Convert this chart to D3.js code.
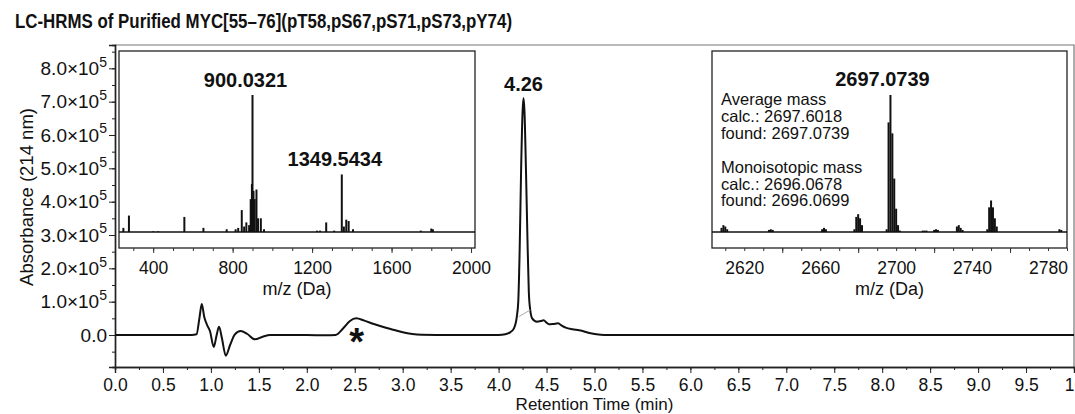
<!DOCTYPE html>
<html><head><meta charset="utf-8">
<script src="https://cdn.jsdelivr.net/npm/d3@7"></script>
<style>
body{margin:0;background:#fff;}
svg{display:block;font-family:"Liberation Sans",Arial,sans-serif;}
</style></head>
<body><svg id="c" width="1075" height="414"></svg>
<script>
// ---------- data ----------
const titleText = "LC-HRMS of Purified MYC[55\u201376](pT58,pS67,pS71,pS73,pY74)";
// chromatogram: retention time (min) and absorbance (x10^5)
const rtTimes = [0,0.5,0.8,0.85,0.88,0.905,0.93,0.96,0.99,1.03,1.06,1.085,1.115,1.155,1.2,1.25,1.31,1.38,1.46,1.54,1.62,1.8,2.0,2.2,2.3,2.38,2.45,2.515,2.6,2.7,2.79,2.9,3.0,3.1,3.2,3.5,3.8,4.0,4.07,4.12,4.16,4.19,4.205,4.22,4.235,4.25,4.26,4.27,4.285,4.30,4.315,4.33,4.35,4.40,4.44,4.47,4.50,4.53,4.57,4.62,4.66,4.70,4.77,4.84,4.90,4.96,5.02,5.1,5.5,6,7,8,9,10];
const rtValues = [0,0,0,0.02,0.5,0.93,0.55,0.3,0.12,-0.36,0.0,0.25,-0.1,-0.62,-0.3,0.02,0.12,0.03,-0.13,-0.05,0,0,0,-0.01,0,0.2,0.42,0.5,0.43,0.33,0.25,0.16,0.08,0.03,0.01,0,0,0,0.02,0.08,0.2,0.55,1.0,2.6,5.0,6.7,7.11,6.7,5.0,3.0,1.3,0.75,0.5,0.4,0.42,0.44,0.37,0.32,0.33,0.35,0.28,0.22,0.17,0.14,0.1,0.05,0.02,0,0,0,0,0,0,0];
const yTicks = [0,1,2,3,4,5,6,7,8];
const xTicks = [0,0.5,1,1.5,2,2.5,3,3.5,4,4.5,5,5.5,6,6.5,7,7.5,8,8.5,9,9.5,10];
const peakLabel = {t:4.26, v:7.11, text:"4.26"};
const starMark = {t:2.52, v:0.06};
const dropLine = [[4.21,0.55],[4.33,0.75]];
// left inset spectrum (m/z, relative intensity)
const ms1Mz  = [250,278,400,425,557,653,770,815,828,846,858,869,883,891,897,900,905,911,920,928,942,958,1225,1240,1271,1311,1349.5,1360,1372,1384,1406,1747,1800,1808];
const ms1Int = [0.03,0.12,0.005,0.005,0.11,0.03,0.02,0.02,0.03,0.16,0.04,0.07,0.05,0.24,0.35,1.0,0.3,0.24,0.31,0.1,0.1,0.02,0.01,0.01,0.07,0.01,0.42,0.04,0.09,0.08,0.02,0.01,0.025,0.02];
const ms1Ticks = [400,800,1200,1600,2000];
const ms1Labels = [{mz:900.0321,v:1.0,text:"900.0321"},{mz:1349.5434,v:0.42,text:"1349.5434"}];
// right inset deconvoluted spectrum
const ms2Mz  = [2608,2609,2610,2611,2633,2634,2635,2661,2662,2663,2678,2679,2680,2681,2682,2695,2696,2697,2698,2699,2700,2701,2702,2714,2715,2716,2720,2721,2722,2732,2733,2734,2735,2748,2749,2750,2751,2752,2753,2786,2787];
const ms2Int = [0.03,0.05,0.04,0.02,0.015,0.02,0.015,0.02,0.03,0.02,0.02,0.11,0.13,0.1,0.05,0.02,0.8,1.0,0.72,0.39,0.17,0.05,0.01,0.01,0.01,0.01,0.015,0.02,0.015,0.04,0.05,0.03,0.015,0.02,0.18,0.23,0.18,0.1,0.04,0.02,0.015];
const ms2Ticks = [2620,2660,2700,2740,2780];
const ms2Label = {mz:2697,v:1.0,text:"2697.0739"};
const massText = ["Average mass","calc.: 2697.6018","found: 2697.0739","","Monoisotopic mass","calc.: 2696.0678","found: 2696.0699"];

// ---------- drawing ----------
const FONT = "'Liberation Sans',Arial,sans-serif";
const svg = d3.select("#c");
const L=115, R=1074, T=45, B=367;
const x = d3.scaleLinear().domain([0,10]).range([L,R]);
const y = d3.scaleLinear().domain([-0.96,8.7]).range([B,T]);

svg.append("text").attr("x",15).attr("y",28).attr("font-weight","bold").attr("font-size",20.5)
  .attr("textLength",497).attr("lengthAdjust","spacingAndGlyphs")
  .attr("fill","#111").text(titleText);

// frame
svg.append("path").attr("d",`M${L},${T}H${R}V${B}`).attr("fill","none").attr("stroke","#777").attr("stroke-width",1.2);

// x axis
const gx = svg.append("g").attr("transform",`translate(0,${B})`);
gx.call(d3.axisBottom(x).tickValues(d3.range(0,10.01,0.25)).tickSize(3).tickFormat(""));
gx.append("g").call(d3.axisBottom(x).tickValues(xTicks).tickSize(6)
   .tickFormat(d=> d===10 ? "10" : d3.format(".1f")(d)));
gx.selectAll(".domain").attr("stroke","#222").attr("stroke-width",1.4);
gx.selectAll(".tick line").attr("stroke","#222");
gx.selectAll(".tick text").attr("font-size",17.5).attr("fill","#111").attr("dy","0.86em")
  .attr("font-family",FONT);
svg.append("text").attr("x",(L+R)/2).attr("y",409.5).attr("text-anchor","middle").attr("font-size",17)
  .attr("fill","#111").text("Retention Time (min)");

// y axis
const gy = svg.append("g").attr("transform",`translate(${L},0)`);
gy.call(d3.axisLeft(y).tickValues(d3.range(-0.5,8.51,0.5)).tickSize(3).tickFormat(""));
gy.append("g").call(d3.axisLeft(y).tickValues(yTicks).tickSize(6).tickFormat(""));
gy.selectAll(".domain").attr("stroke","#222").attr("stroke-width",1.4);
gy.selectAll(".tick line").attr("stroke","#222");
yTicks.forEach(v=>{
  const t = gy.append("text").attr("x",-8).attr("y",y(v)).attr("dy","0.35em").attr("text-anchor","end")
     .attr("font-size",19).attr("fill","#111");
  if(v===0){ t.text("0.0"); }
  else {
    t.append("tspan").text(d3.format(".1f")(v)+"\u00d710");
    t.append("tspan").attr("dy","-0.6em").attr("font-size",14).text("5");
  }
});
svg.append("text").attr("transform",`translate(33,197) rotate(-90)`).attr("text-anchor","middle")
  .attr("font-size",18.5).attr("fill","#111").text("Absorbance (214 nm)");

// chromatogram
const chrom = rtTimes.map((t,i)=>[t,rtValues[i]]);
svg.append("path").datum(chrom).attr("fill","none").attr("stroke","#111").attr("stroke-width",2)
  .attr("stroke-linejoin","round")
  .attr("d",d3.line().x(d=>x(d[0])).y(d=>y(d[1])).curve(d3.curveMonotoneX));
svg.append("path").datum(dropLine).attr("stroke","#aaa").attr("stroke-width",1).attr("fill","none")
  .attr("d",d3.line().x(d=>x(d[0])).y(d=>y(d[1])));
svg.append("text").attr("x",x(peakLabel.t)).attr("y",y(peakLabel.v)-7).attr("text-anchor","middle")
  .attr("font-weight","bold").attr("font-size",20).attr("fill","#111").text(peakLabel.text);
svg.append("text").attr("x",x(starMark.t)).attr("y",y(starMark.v)+22).attr("text-anchor","middle")
  .attr("font-weight","bold").attr("font-size",38).attr("fill","#111").text("*");

// insets
function inset(box, domain, mzArr, intArr, ticks, minorStep, majorStep){
  const {l,r,t,b,base} = box;
  const sx = d3.scaleLinear().domain(domain).range([l,r]);
  const sy = d3.scaleLinear().domain([0,1]).range([base, 95]);
  const g = svg.append("g");
  g.append("rect").attr("x",l).attr("y",t).attr("width",r-l).attr("height",b-t)
    .attr("fill","#fff").attr("stroke","#222").attr("stroke-width",1.3);
  const minor = d3.range(Math.ceil(domain[0]/minorStep)*minorStep, domain[1]+0.001, minorStep);
  const ga = g.append("g").attr("transform",`translate(0,${b})`);
  ga.call(d3.axisBottom(sx).tickValues(minor).tickSize(3).tickFormat(""));
  ga.append("g").call(d3.axisBottom(sx).tickValues(minor.filter(v=>Math.abs(v/majorStep-Math.round(v/majorStep))<1e-6)).tickSize(5).tickFormat(""));
  ga.append("g").call(d3.axisBottom(sx).tickValues(ticks).tickSize(0).tickPadding(14).tickFormat(d3.format("d")));
  ga.selectAll(".domain").remove();
  ga.selectAll(".tick line").attr("stroke","#333");
  ga.selectAll(".tick text").attr("font-size",17.5).attr("fill","#111").attr("font-family",FONT);
  g.append("text").attr("x",(l+r)/2).attr("y",295).attr("text-anchor","middle").attr("font-size",18)
    .attr("fill","#111").text("m/z (Da)");
  const clip = "clip"+l;
  svg.append("clipPath").attr("id",clip).append("rect").attr("x",l).attr("y",t).attr("width",r-l).attr("height",b-t);
  const gp = g.append("g").attr("clip-path",`url(#${clip})`);
  gp.selectAll("line.pk").data(mzArr.map((m,i)=>[m,intArr[i]])).join("line")
    .attr("x1",d=>sx(d[0])).attr("x2",d=>sx(d[0])).attr("y1",sy(0)).attr("y2",d=>sy(d[1]))
    .attr("stroke","#111").attr("stroke-width",2);
  gp.append("line").attr("x1",l).attr("x2",r).attr("y1",sy(0)).attr("y2",sy(0))
    .attr("stroke","#111").attr("stroke-width",1.5);
  return {sx, sy, g};
}
const a = inset({l:119,r:475,t:51,b:248,base:232},[228,2020],ms1Mz,ms1Int,ms1Ticks,100,400);
ms1Labels.forEach(d=>{
  a.g.append("text").attr("x",a.sx(d.mz)-7).attr("y",a.sy(d.v)-8).attr("text-anchor","middle")
   .attr("font-weight","bold").attr("font-size",20).attr("fill","#111").text(d.text);
});
const bI = inset({l:712,r:1067,t:51,b:248,base:232},[2603,2790],ms2Mz,ms2Int,ms2Ticks,10,40);
bI.g.append("text").attr("x",bI.sx(ms2Label.mz)-8).attr("y",bI.sy(ms2Label.v)-9).attr("text-anchor","middle")
   .attr("font-weight","bold").attr("font-size",20).attr("fill","#111").text(ms2Label.text);
massText.forEach((s,i)=>{
  bI.g.append("text").attr("x",721).attr("y",105+i*16.9).attr("font-size",16.5).attr("fill","#111").text(s);
});
</script></body></html>
